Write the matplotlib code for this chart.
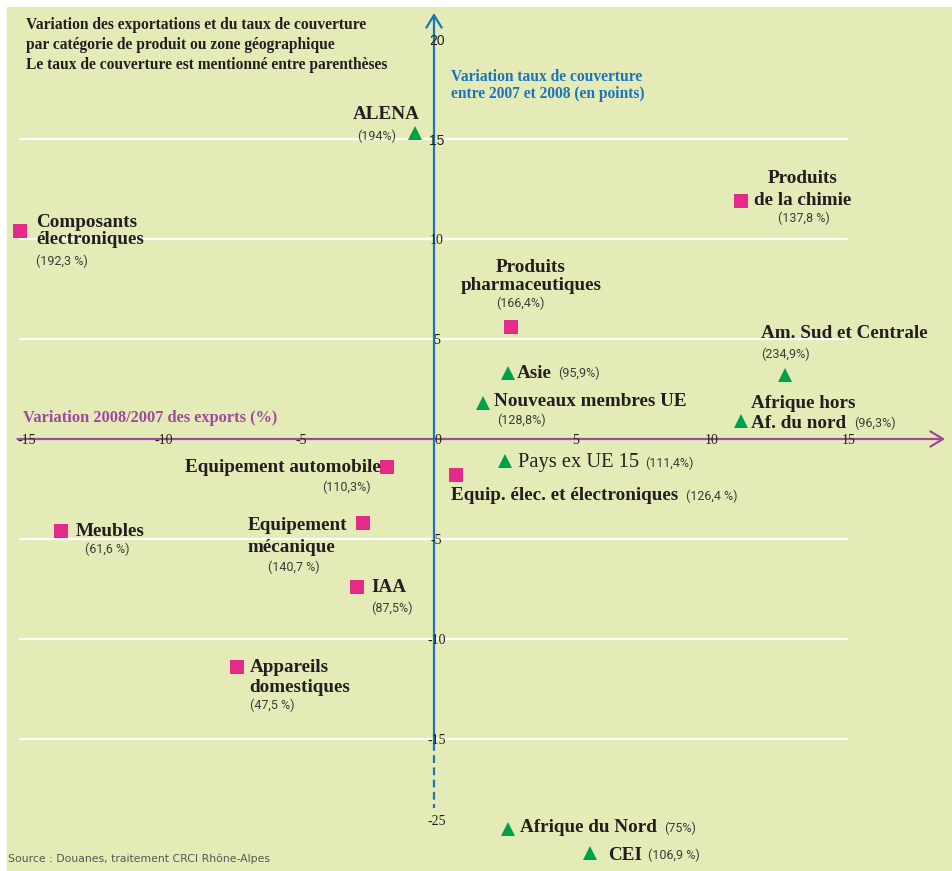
import matplotlib.pyplot as plt
from matplotlib.patches import Rectangle

plt.rcParams['font.family'] = 'serif'
plt.rcParams['font.serif'] = ['Liberation Serif', 'DejaVu Serif']

# donnees
names = ['ALENA', 'Composants\nélectroniques', 'Produits\nde la chimie',
         'Produits\npharmaceutiques', 'Am. Sud et Centrale', 'Afrique hors\nAf. du nord',
         'Asie', 'Nouveaux membres UE', 'Pays ex UE 15', 'Equipement automobile',
         'Equip. élec. et électroniques', 'Meubles', 'Equipement\nmécanique', 'IAA',
         'Appareils\ndomestiques', 'Afrique du Nord', 'CEI']
kind = ['zone', 'produit', 'produit', 'produit', 'zone', 'zone', 'zone', 'zone', 'zone',
        'produit', 'produit', 'produit', 'produit', 'produit', 'produit', 'zone', 'zone']
export_var = [-0.7, -15.1, 11.2, 2.8, 12.8, 11.2, 2.7, 1.8, 2.6, -1.7, 0.8, -13.6, -2.6,
              -2.8, -7.2, 2.7, 5.7]
taux_var = [15.3, 10.4, 11.9, 5.6, 3.2, 0.9, 3.3, 1.8, -1.1, -1.4, -1.8, -4.6, -4.2,
            -7.4, -11.4, -25.5, -26.7]
taux = ['(194%)', '(192,3 %)', '(137,8 %)', '(166,4%)', '(234,9%)', '(96,3%)', '(95,9%)',
        '(128,8%)', '(111,4%)', '(110,3%)', '(126,4 %)', '(61,6 %)', '(140,7 %)',
        '(87,5%)', '(47,5 %)', '(75%)', '(106,9 %)']

x_ticks = [-15, -10, -5, 0, 5, 10, 15]
y_ticks = [20, 15, 10, 5, -5, -10, -15, -25]
grid_y = [15, 10, 5, -5, -10, -15]

# placement des etiquettes (pixels): dx, dy, ha, pas interligne, pct dx, pct dy, pct ha
layout = [
    (5, -18, 'right', 0, -19, 3, 'right'),
    (16, -8, 'left', 17, 16, 30, 'left'),
    (62, -22, 'center', 22, 63, 17, 'center'),
    (20, -59, 'center', 17, 10, -24, 'center'),
    (-24, -42, 'left', 0, -24, -21, 'left'),
    (10, -18, 'left', 20, 113, 2, 'left'),
    (9, 0, 'left', 0, 50, 0, 'left'),
    (11, -2, 'left', 0, 14, 17, 'left'),
    (13, 1, 'left', 0, 140, 2, 'left'),
    (-7, 0, 'right', 0, -17, 20, 'right'),
    (-5, 21, 'left', 0, 230, 21, 'left'),
    (14, 1, 'left', 0, 24, 18, 'left'),
    (-115, 3, 'left', 21, -95, 44, 'left'),
    (14, 1, 'left', 0, 14, 21, 'left'),
    (13, 0, 'left', 20, 13, 38, 'left'),
    (12, -1, 'left', 0, 156, -1, 'left'),
    (18, 2, 'left', 0, 58, 2, 'left'),
]

bg = '#e5ebb7'
pink = '#e62a8a'
green = '#00a14b'
blue = '#1b75bb'
purple = '#9d4a9c'
dark = '#231f20'


def py(v):
    # axe vertical coupe entre -15 et -25
    return v if v >= -15 else v + 6


fig = plt.figure(figsize=(9.53, 8.71), dpi=100)
fig.patches.append(Rectangle((7 / 953, 0), 1, 1 - 7 / 871, transform=fig.transFigure,
                             color=bg, zorder=-1))
ax = fig.add_axes([0, 0, 1, 1])
ax.set_xlim(-434 / 27.4, (953 - 434) / 27.4)
ax.set_ylim((439 - 871) / 20, 439 / 20)
ax.axis('off')

ax.hlines(grid_y, -15.15, 15.1, colors='white', lw=1.6, zorder=1)

# axes avec fleches
ax.annotate('', xy=(18.65, 0), xytext=(-15.2, 0),
            arrowprops=dict(arrowstyle='->,head_length=0.9,head_width=0.55', color=purple,
                            lw=1.6, shrinkA=0, shrinkB=0), zorder=2)
ax.annotate('', xy=(0, 21.3), xytext=(0, -15.2),
            arrowprops=dict(arrowstyle='->,head_length=0.9,head_width=0.55', color=blue,
                            lw=1.6, shrinkA=0, shrinkB=0), zorder=2)
ax.plot([0, 0], [-15.2, -18.45], color=blue, lw=1.6, ls=(0, (3.5, 2)), zorder=2)

for t in x_ticks:
    ax.text(t + 0.15, -0.05, str(t), ha='center', va='center', fontsize=10, color=dark, zorder=3)
for t in y_ticks:
    fam = 'Liberation Sans' if t >= 15 else 'Liberation Serif'
    ax.text(0.1, py(t) - 0.1, str(t), ha='center', va='center', fontsize=10, family=fam,
            color=dark, zorder=3)

# points
for i in range(len(names)):
    if kind[i] == 'zone':
        ax.plot(export_var[i], py(taux_var[i]), marker='^', ms=10, color=green, mew=0,
                ls='none', zorder=4)
    else:
        ax.plot(export_var[i], py(taux_var[i]), marker='s', ms=9.7, color=pink, mew=0,
                ls='none', zorder=4)

for i, name in enumerate(names):
    x, y = export_var[i], py(taux_var[i])
    dx, dy, ha, step, pdx, pdy, pha = layout[i]
    bold = name != 'Pays ex UE 15'
    for k, line in enumerate(name.split('\n')):
        ax.annotate(line, (x, y), xytext=(dx, -(dy + k * step)), textcoords='offset pixels',
                    ha=ha, va='center', fontsize=13.8 if bold else 14.8,
                    fontweight='bold' if bold else 'normal', color=dark, zorder=5)
    ax.annotate(taux[i], (x, y), xytext=(pdx, -pdy), textcoords='offset pixels',
                ha=pha, va='center', fontsize=9, family='Roboto', color='#3c3c3c', zorder=5)

title = ['Variation des exportations et du taux de couverture',
         'par catégorie de produit ou zone géographique',
         'Le taux de couverture est mentionné entre parenthèses']
for k, line in enumerate(title):
    fig.text(26 / 953, 1 - (29 + 20 * k) / 871, line, ha='left', va='baseline',
             fontsize=11.2, fontweight='bold', color=dark)

for k, line in enumerate(['Variation taux de couverture', 'entre 2007 et 2008 (en points)']):
    fig.text(451 / 953, 1 - (81 + 17 * k) / 871, line, ha='left', va='baseline',
             fontsize=11.2, fontweight='bold', color=blue)
fig.text(23 / 953, 1 - 422 / 871, 'Variation 2008/2007 des exports (%)', ha='left',
         va='baseline', fontsize=11.8, fontweight='bold', color=purple)

fig.text(8 / 953, 1 - 859 / 871, 'Source : Douanes, traitement CRCI Rhône-Alpes', ha='left',
         va='center', fontsize=7.8, family='DejaVu Sans', color='#555555')

fig.savefig('out.png', dpi=100)
